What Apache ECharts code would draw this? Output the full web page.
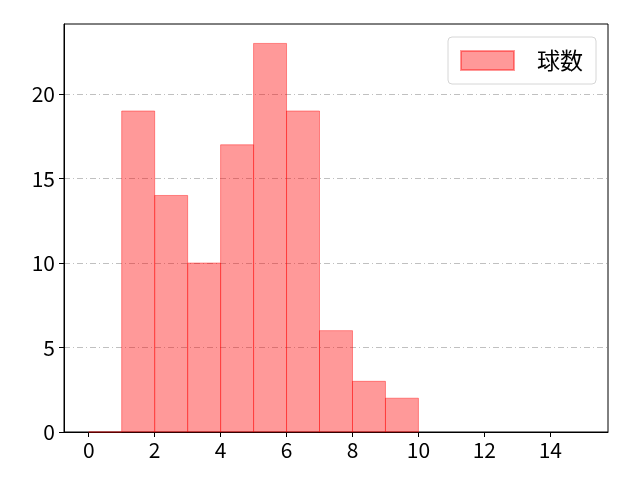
<!DOCTYPE html>
<html>
<head>
<meta charset="UTF-8">
<title>球数</title>
<script src="https://cdn.jsdelivr.net/npm/echarts@6/dist/echarts.min.js"></script>
<style>
html,body{margin:0;padding:0;background:#fff;}
#main{width:640px;height:480px;}
</style>
</head>
<body>
<div id="main"></div>
<script type="text/javascript">
// ヒストグラムのビン（左端）と度数
var binStarts = [0, 1, 2, 3, 4, 5, 6, 7, 8, 9];
var binWidth = 1;
var counts = [0, 19, 14, 10, 17, 23, 19, 6, 3, 2];
var xTicks = [0, 2, 4, 6, 8, 10, 12, 14];
var yTicks = [0, 5, 10, 15, 20];
var seriesName = '球数';

var font = '"Noto Sans CJK JP", "Noto Sans", sans-serif';

var data = binStarts.map(function (s, i) {
	return [s, s + binWidth, counts[i]];
});

var chart = echarts.init(document.getElementById('main'));
chart.setOption({
	animation: false,
	backgroundColor: '#fff',
	grid: {
		left: 64, right: 32, top: 24, bottom: 48,
		show: true, borderColor: '#000', borderWidth: 1, backgroundColor: 'transparent'
	},
	legend: {
		data: [{ name: seriesName, icon: 'rect' }],
		right: 44, top: 37,
		padding: [12, 13, 12, 12],
		borderColor: '#d6d6d6', borderWidth: 1, borderRadius: 4,
		backgroundColor: '#fff',
		itemWidth: 53, itemHeight: 19,
		textStyle: { fontFamily: font, fontSize: 23, color: '#000', padding: [0, 0, 0, 18] }
	},
	xAxis: {
		type: 'value', min: -0.75, max: 15.75,
		axisLine: { show: true, onZero: false, lineStyle: { color: '#000', width: 1 } },
		axisTick: { show: true, length: 5, lineStyle: { color: '#000' }, customValues: xTicks },
		axisLabel: { customValues: xTicks, fontFamily: font, fontSize: 21, color: '#000', margin: 8 },
		splitLine: { show: false }
	},
	yAxis: {
		type: 'value', min: 0, max: 24.15,
		axisLine: { show: true, onZero: false, lineStyle: { color: '#000', width: 1 } },
		axisTick: { show: true, length: 5, lineStyle: { color: '#000' }, customValues: yTicks },
		axisLabel: { customValues: yTicks, fontFamily: font, fontSize: 21, color: '#000', margin: 9 },
		splitLine: { show: true, lineStyle: { color: '#b0b0b0', width: 0.8, type: [6, 3, 1, 3] } }
	},
	series: [{
		name: seriesName,
		type: 'custom',
		itemStyle: { color: 'rgba(255,0,0,0.4)', borderColor: 'rgba(255,0,0,0.4)', borderWidth: 1 },
		renderItem: function (params, api) {
			var p0 = api.coord([api.value(0), 0]);
			var p1 = api.coord([api.value(1), api.value(2)]);
			return {
				type: 'rect',
				shape: { x: p0[0], y: p1[1], width: p1[0] - p0[0], height: p0[1] - p1[1] },
				style: { fill: 'rgba(255,0,0,0.4)', stroke: 'rgba(255,0,0,0.4)', lineWidth: 1 }
			};
		},
		encode: { x: [0, 1], y: 2 },
		data: data
	}]
});
</script>
</body>
</html>
